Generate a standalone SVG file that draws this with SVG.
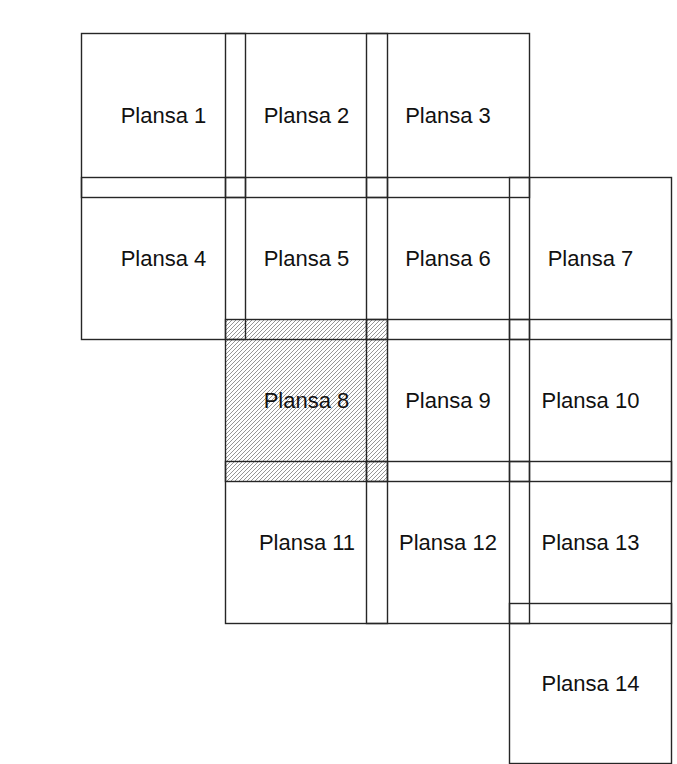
<svg xmlns="http://www.w3.org/2000/svg" width="677" height="764" viewBox="0 0 677 764">
<style>
.s{fill:none;stroke:#262626;stroke-width:1.4}
.t{font-family:"Liberation Sans",Arial,sans-serif;font-size:22px;fill:#111;text-anchor:middle}
</style>
<defs>
<pattern id="h" patternUnits="userSpaceOnUse" width="4" height="4">
<rect width="4" height="4" fill="#fff"/>
<path d="M-1,1 L1,-1 M0,4 L4,0 M3,5 L5,3" stroke="#8a8a8a" stroke-width="0.9"/>
</pattern>
</defs>
<rect width="677" height="764" fill="#fff"/>
<g id="plansa8">
<rect x="225.5" y="319.5" width="162" height="162" fill="url(#h)"/>
<rect class="s" x="225.5" y="319.5" width="162" height="162"/>
<text class="t" x="306.5" y="408">Plansa 8</text>
</g>
<g id="plansa1"><rect class="s" x="81.5" y="33.5" width="164" height="164"/><text class="t" x="163.5" y="123">Plansa 1</text></g>
<g id="plansa2"><rect class="s" x="225.5" y="33.5" width="162" height="164"/><text class="t" x="306.5" y="123">Plansa 2</text></g>
<g id="plansa3"><rect class="s" x="366.5" y="33.5" width="163" height="164"/><text class="t" x="448" y="123">Plansa 3</text></g>
<g id="plansa4"><rect class="s" x="81.5" y="177.5" width="164" height="162"/><text class="t" x="163.5" y="266">Plansa 4</text></g>
<g id="plansa5"><rect class="s" x="225.5" y="177.5" width="162" height="162"/><text class="t" x="306.5" y="266">Plansa 5</text></g>
<g id="plansa6"><rect class="s" x="366.5" y="177.5" width="163" height="162"/><text class="t" x="448" y="266">Plansa 6</text></g>
<g id="plansa7"><rect class="s" x="509.5" y="177.5" width="162" height="162"/><text class="t" x="590.5" y="266">Plansa 7</text></g>
<g id="plansa9"><rect class="s" x="366.5" y="319.5" width="163" height="162"/><text class="t" x="448" y="408">Plansa 9</text></g>
<g id="plansa10"><rect class="s" x="509.5" y="319.5" width="162" height="162"/><text class="t" x="590.5" y="408">Plansa 10</text></g>
<g id="plansa11"><rect class="s" x="225.5" y="461.5" width="162" height="162"/><text class="t" x="307" y="550">Plansa 11</text></g>
<g id="plansa12"><rect class="s" x="366.5" y="461.5" width="163" height="162"/><text class="t" x="448" y="550">Plansa 12</text></g>
<g id="plansa13"><rect class="s" x="509.5" y="461.5" width="162" height="162"/><text class="t" x="590.5" y="550">Plansa 13</text></g>
<g id="plansa14"><rect class="s" x="509.5" y="603.5" width="162" height="160"/><text class="t" x="590.5" y="691">Plansa 14</text></g>
<g id="connectors"></g>
</svg>
